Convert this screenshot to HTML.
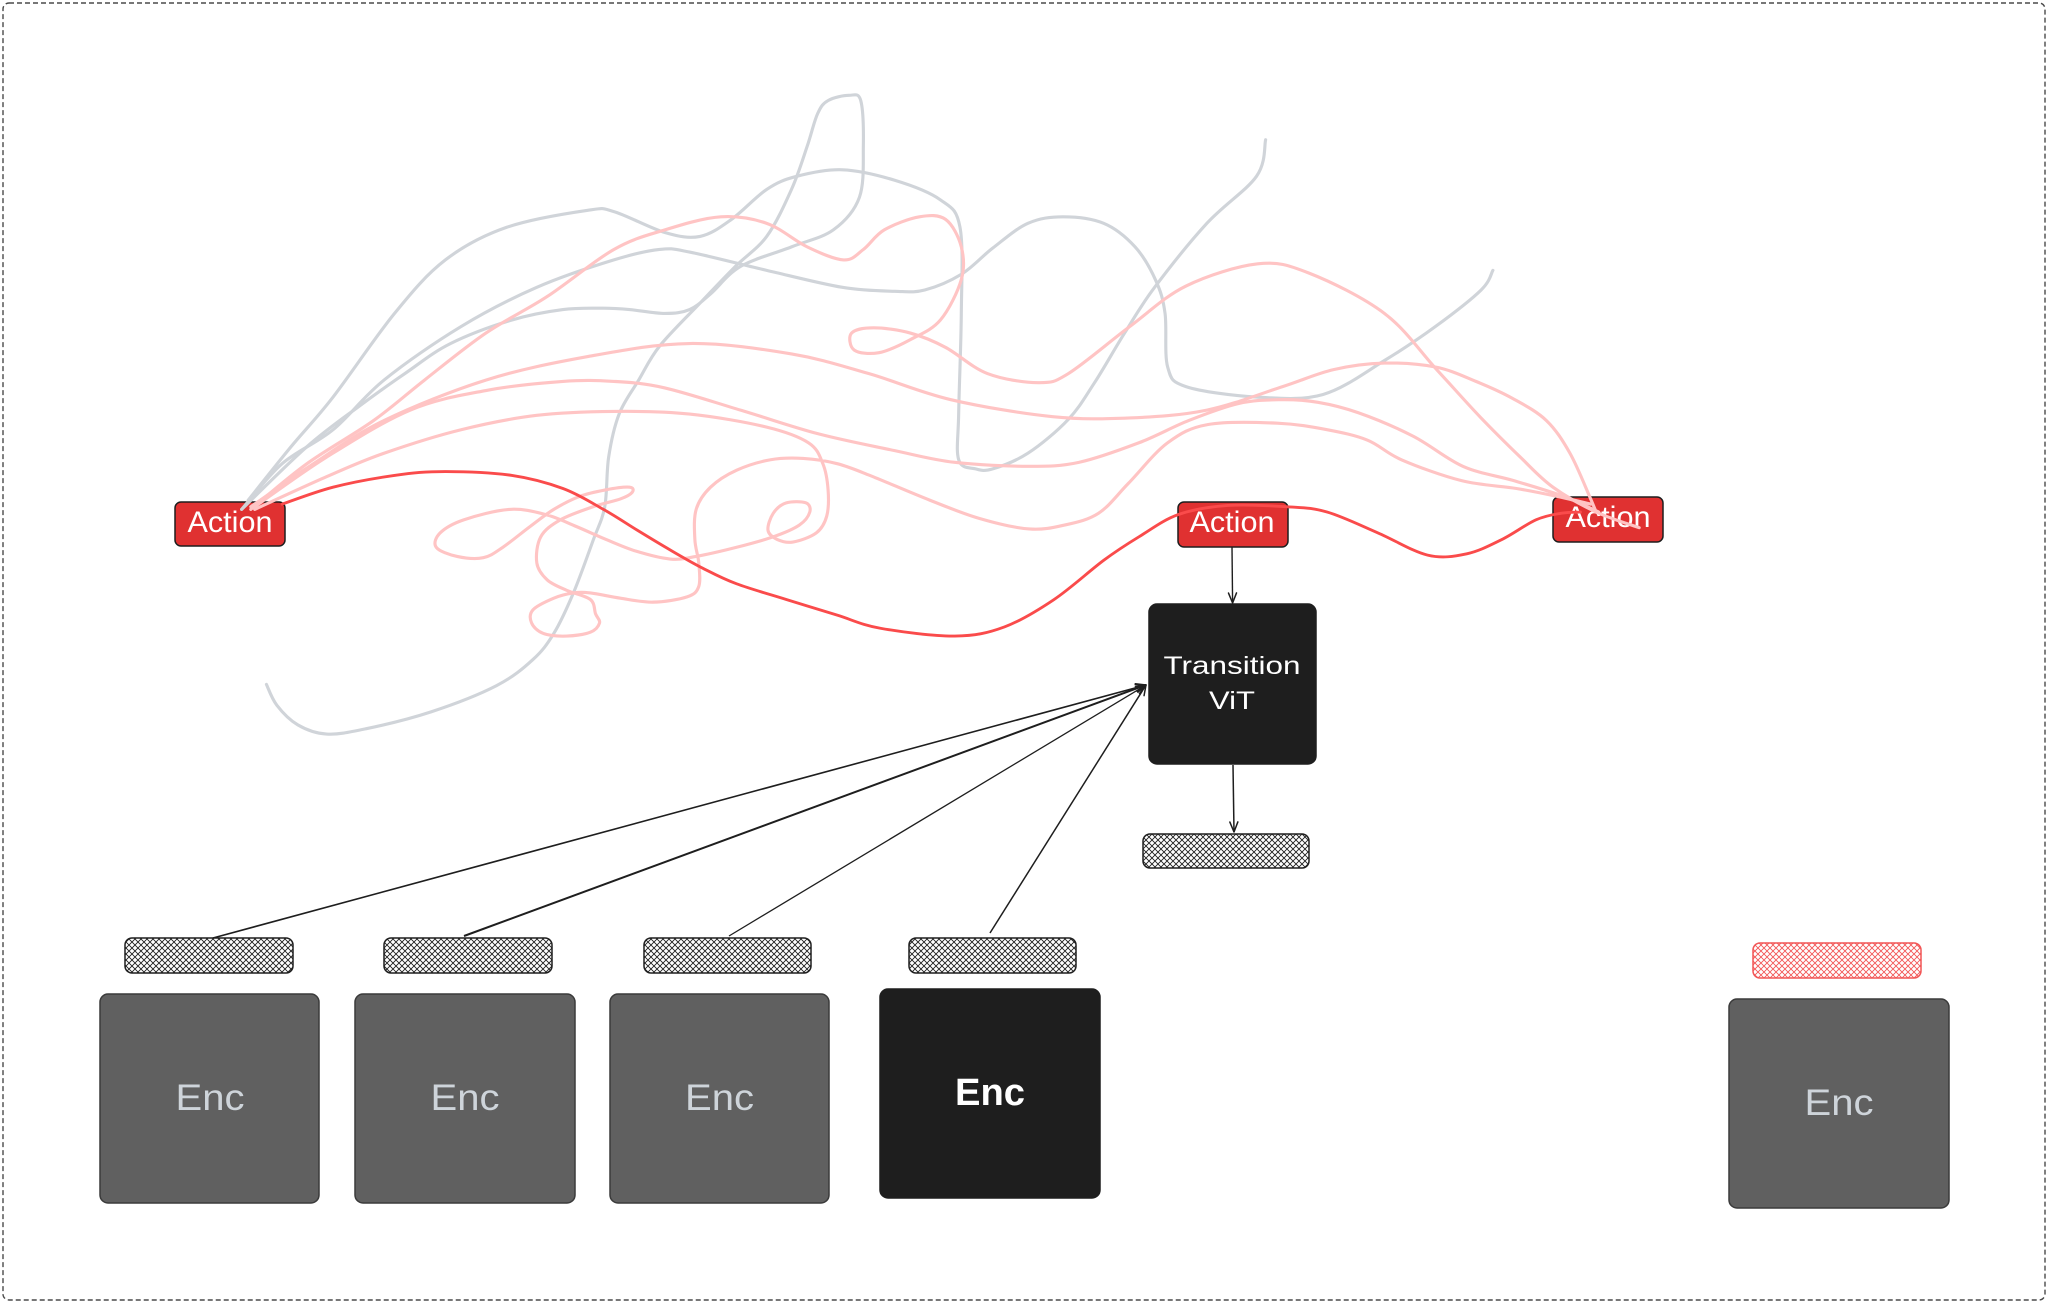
<!DOCTYPE html>
<html>
<head>
<meta charset="utf-8">
<style>
  html,body{margin:0;padding:0;background:#fff;}
  svg{display:block;}
  .g{fill:none;stroke:#d0d4d9;stroke-width:2.4;stroke-linecap:round;stroke-linejoin:round;}
  .p{fill:none;stroke:#ffc4c4;stroke-width:2.4;stroke-linecap:round;stroke-linejoin:round;}
  .r{fill:none;stroke:#fa4b4b;stroke-width:2.2;stroke-linecap:round;stroke-linejoin:round;}
  .t{font-family:"Liberation Sans","DejaVu Sans",sans-serif;}
</style>
</head>
<body>
<svg width="2048" height="1304" viewBox="0 0 2048 1304" xmlns="http://www.w3.org/2000/svg">
  <defs>
    <pattern id="hb" patternUnits="userSpaceOnUse" width="6" height="6">
      <path d="M0,0 L6,6 M6,0 L0,6" stroke="#1e1e1e" stroke-width="0.9" fill="none"/>
    </pattern>
    <pattern id="hr" patternUnits="userSpaceOnUse" width="6" height="6">
      <path d="M0,0 L6,6 M6,0 L0,6" stroke="#f25555" stroke-width="0.9" fill="none"/>
    </pattern>
    <marker id="ah" viewBox="0 0 12 12" refX="11" refY="6" markerWidth="12" markerHeight="12" markerUnits="userSpaceOnUse" orient="auto">
      <path d="M1,2 L11,6 L1,10" fill="none" stroke="#1e1e1e" stroke-width="1.5" stroke-linecap="round" stroke-linejoin="round"/>
    </marker>
  </defs>

  <!-- outer dashed frame -->
  <rect x="3" y="3" width="2042" height="1297" rx="6" fill="none" stroke="#4a4a4a" stroke-width="1.4" stroke-dasharray="5 3"/>

  <!-- Enc boxes -->
  <rect x="100" y="994" width="219" height="209" rx="8" fill="#606060" stroke="#3a3a3a" stroke-width="1.5"/>
  <rect x="355" y="994" width="220" height="209" rx="8" fill="#606060" stroke="#3a3a3a" stroke-width="1.5"/>
  <rect x="610" y="994" width="219" height="209" rx="8" fill="#606060" stroke="#3a3a3a" stroke-width="1.5"/>
  <rect x="880" y="989" width="220" height="209" rx="8" fill="#1e1e1e" stroke="#1e1e1e" stroke-width="1.5"/>
  <rect x="1729" y="999" width="220" height="209" rx="8" fill="#606060" stroke="#3a3a3a" stroke-width="1.5"/>

  <text class="t" x="210" y="1110" font-size="37" fill="#ced4da" text-anchor="middle" textLength="69" lengthAdjust="spacingAndGlyphs">Enc</text>
  <text class="t" x="465" y="1110" font-size="37" fill="#ced4da" text-anchor="middle" textLength="69" lengthAdjust="spacingAndGlyphs">Enc</text>
  <text class="t" x="719.5" y="1110" font-size="37" fill="#ced4da" text-anchor="middle" textLength="69" lengthAdjust="spacingAndGlyphs">Enc</text>
  <text class="t" x="990" y="1105" font-size="38" fill="#ffffff" text-anchor="middle" textLength="70" lengthAdjust="spacingAndGlyphs" font-weight="bold">Enc</text>
  <text class="t" x="1839" y="1115" font-size="37" fill="#ced4da" text-anchor="middle" textLength="69" lengthAdjust="spacingAndGlyphs">Enc</text>

  <!-- hatched token bars -->
  <rect x="125" y="938" width="168" height="35" rx="7" fill="url(#hb)" stroke="#1e1e1e" stroke-width="1.5"/>
  <rect x="384" y="938" width="168" height="35" rx="7" fill="url(#hb)" stroke="#1e1e1e" stroke-width="1.5"/>
  <rect x="644" y="938" width="167" height="35" rx="7" fill="url(#hb)" stroke="#1e1e1e" stroke-width="1.5"/>
  <rect x="909" y="938" width="167" height="35" rx="7" fill="url(#hb)" stroke="#1e1e1e" stroke-width="1.5"/>
  <rect x="1143" y="834" width="166" height="34" rx="7" fill="url(#hb)" stroke="#1e1e1e" stroke-width="1.5"/>
  <rect x="1753" y="943" width="168" height="35" rx="7" fill="url(#hr)" stroke="#f25555" stroke-width="1.5"/>

  <!-- Transition ViT -->
  <rect x="1149" y="604" width="167" height="160" rx="8" fill="#1e1e1e" stroke="#1e1e1e" stroke-width="1.5"/>
  <text class="t" x="1232" y="674" font-size="25" fill="#ffffff" text-anchor="middle" textLength="137" lengthAdjust="spacingAndGlyphs">Transition</text>
  <text class="t" x="1232" y="709" font-size="25" fill="#ffffff" text-anchor="middle" textLength="46" lengthAdjust="spacingAndGlyphs">ViT</text>

  <!-- arrows -->
  <line x1="213" y1="938" x2="1146" y2="685" stroke="#1e1e1e" stroke-width="1.6" marker-end="url(#ah)"/>
  <line x1="464" y1="936" x2="1146" y2="685" stroke="#1e1e1e" stroke-width="2" marker-end="url(#ah)"/>
  <line x1="729" y1="936" x2="1146" y2="685" stroke="#1e1e1e" stroke-width="1.3" marker-end="url(#ah)"/>
  <line x1="990" y1="933" x2="1146" y2="685" stroke="#1e1e1e" stroke-width="1.5" marker-end="url(#ah)"/>
  <line x1="1232" y1="547" x2="1232.6" y2="603" stroke="#1e1e1e" stroke-width="1.4" marker-end="url(#ah)"/>
  <line x1="1233" y1="765" x2="1234" y2="832" stroke="#1e1e1e" stroke-width="1.5" marker-end="url(#ah)"/>

  <!-- Action boxes -->
  <rect x="175" y="502" width="110" height="44" rx="6" fill="#e03131" stroke="#1e1e1e" stroke-width="1.5"/>
  <rect x="1178" y="502" width="110" height="45" rx="6" fill="#e03131" stroke="#1e1e1e" stroke-width="1.5"/>
  <rect x="1553" y="497" width="110" height="45" rx="6" fill="#e03131" stroke="#1e1e1e" stroke-width="1.5"/>
  <text class="t" x="230" y="532" font-size="30" fill="#ffffff" text-anchor="middle" textLength="85" lengthAdjust="spacingAndGlyphs">Action</text>
  <text class="t" x="1232" y="532" font-size="30" fill="#ffffff" text-anchor="middle" textLength="85" lengthAdjust="spacingAndGlyphs">Action</text>
  <text class="t" x="1608" y="527" font-size="30" fill="#ffffff" text-anchor="middle" textLength="85" lengthAdjust="spacingAndGlyphs">Action</text>

  <!-- curves (display coordinates, scaled to original) -->
  <g transform="scale(1.306122)">
    <!-- gray -->
    <polyline class="g s" points="190,383 222,343 255,304 302,240 341,199 388,174 450,161 470,162 509,178 536,181 560,168 587,145 610,135 645,130 685,138 720,153 735,174 736,240 734,316 734,352 747,359 760,359 787,347 818,321 838,293 861,255 884,220 924,171 962,135 969,107"/>
    <polyline class="g s" points="185,390 235,342 275,311 310,286 345,263 392,245 431,237 462,236 482,237 509,240 528,237 544,225 567,204 606,189 638,176 658,151 661,112 659,77 650,73 634,77 626,87 618,112 606,145 587,181 563,204 536,232 505,265 489,291 474,317 466,350 463,388 454,414 439,454 424,485 408,505 380,525 330,545 280,558 250,562 228,555 212,540 204,524"/>
    <polyline class="g s" points="185,390 216,355 255,329 294,291 353,250 411,220 470,199 505,191 528,193 587,207 645,220 685,223 708,222 736,210 760,190 787,171 814,166 845,171 869,189 885,215 892,240 894,281 908,296 962,304 1013,302 1060,276 1099,250 1134,222 1143,207"/>

    <!-- pink -->
    <polyline class="p s" points="192,390 235,355 286,322 325,291 372,255 419,227 470,191 509,176 552,166 587,171 618,189 646,199 661,191 677,176 704,166 724,168 736,189 736,214 720,245 697,260 673,270 654,268 652,255 669,251 697,255 724,266 756,286 795,293 818,286 865,250 908,219 963,202 1002,209 1060,240 1100,283 1133,319 1164,350 1189,373 1222,392 1255,404"/>
    <polyline class="p s" points="192,388 240,355 294,322 372,291 450,273 528,263 606,271 665,286 728,306 806,319 865,320 924,314 982,296 1021,283 1060,278 1099,281 1130,292 1158,305 1184,322 1202,347 1217,380 1222,392"/>
    <polyline class="p s" points="195,388 250,350 314,314 372,299 431,292 470,292 509,297 567,314 626,332 685,345 731,354 788,357 826,354 872,339 910,322 948,309 980,306 1009,308 1040,316 1082,334 1120,357 1159,368 1197,380 1224,392"/>
    <polyline class="p s" points="195,390 250,365 294,347 353,329 411,318 470,315 528,317 587,327 619,339 630,355 634,375 633,395 625,408 607,415 595,413 588,406 592,393 602,385 617,385 620,392 612,402 592,411 564,419 533,426 513,428 487,422 464,413 441,403 418,394 390,390 355,398 337,408 334,419 350,426 370,427 385,419 406,403 424,390 444,380 464,375 482,373 484,377 475,382 454,388 429,398 414,411 411,431 419,444 434,452 452,459 456,470 459,477 452,484 434,487 416,485 407,477 408,467 424,458 439,454 452,454 475,458 500,461 526,457 535,449 535,431 532,413 533,390 544,373 564,360 590,352 615,351 641,355 666,364 712,383 750,397 788,405 815,402 841,393 864,370 894,339 925,325 978,324 1016,329 1047,337 1073,352 1119,368 1161,374 1192,380 1218,386"/>

    <!-- strong red -->
    <polyline class="r s" points="216,386 255,373 302,364 341,361 392,364 431,374 462,390 488,406 513,421 538,435 564,447 602,459 641,471 674,481 731,487 769,480 807,459 845,429 872,411 902,394 940,387 986,388 1016,392 1055,408 1093,425 1123,424 1150,413 1176,398 1195,393 1210,392"/>
  </g>
</svg>
<script>
(function(){
  var NS='http://www.w3.org/2000/svg';
  var list=document.querySelectorAll('polyline.s');
  for(var k=0;k<list.length;k++){
    var pl=list[k];
    var pts=pl.getAttribute('points').trim().split(/\s+/).map(function(p){return p.split(',').map(Number);});
    var d='M'+pts[0][0]+','+pts[0][1];
    for(var i=0;i<pts.length-1;i++){
      var p0=pts[i-1]||pts[i],p1=pts[i],p2=pts[i+1],p3=pts[i+2]||p2;
      var c1x=p1[0]+(p2[0]-p0[0])/6,c1y=p1[1]+(p2[1]-p0[1])/6;
      var c2x=p2[0]-(p3[0]-p1[0])/6,c2y=p2[1]-(p3[1]-p1[1])/6;
      d+=' C'+c1x.toFixed(1)+','+c1y.toFixed(1)+' '+c2x.toFixed(1)+','+c2y.toFixed(1)+' '+p2[0]+','+p2[1];
    }
    var path=document.createElementNS(NS,'path');
    for(var a=0;a<pl.attributes.length;a++){
      var at=pl.attributes[a];
      if(at.name!=='points') path.setAttribute(at.name,at.value);
    }
    path.setAttribute('d',d);
    pl.parentNode.replaceChild(path,pl);
  }
})();
</script>
</body>
</html>
